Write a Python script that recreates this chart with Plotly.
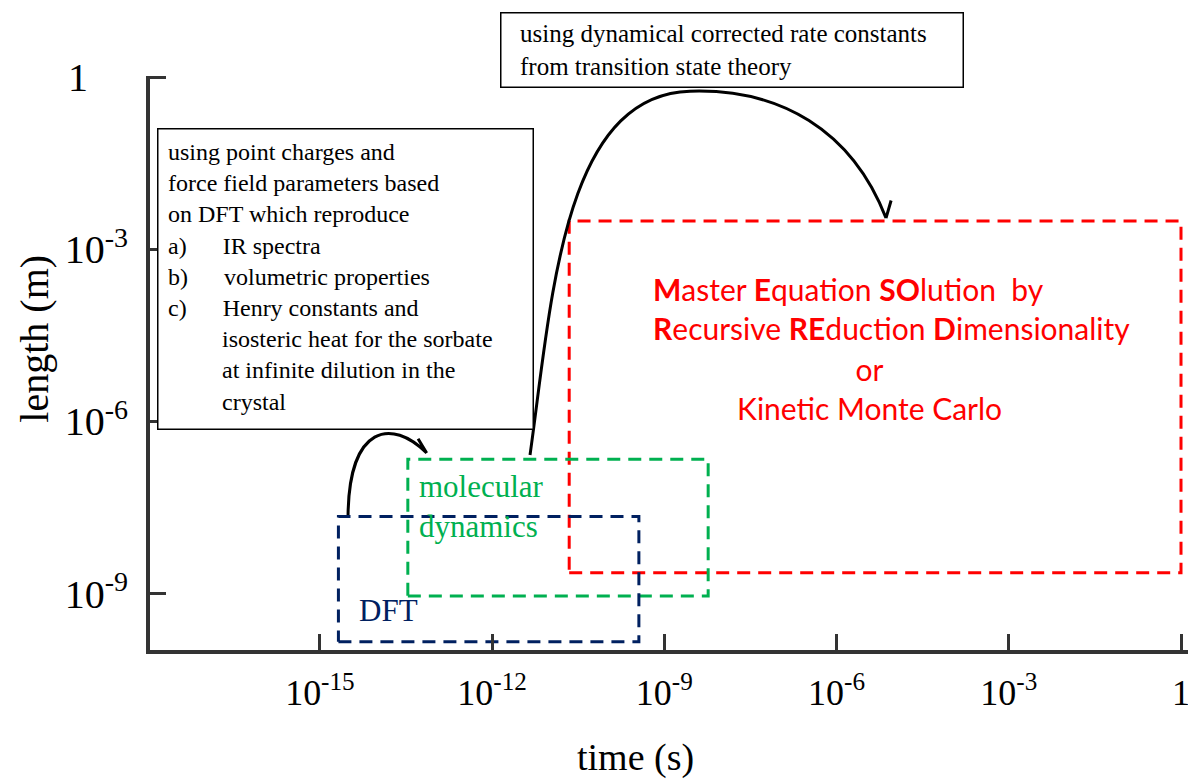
import numpy as np
import plotly.graph_objects as go

# ---- chart data -------------------------------------------------------------
# time / length windows covered by each simulation method (s, m)
dft_time = [2.1e-15, 3.6e-10]
dft_length = [1.45e-10, 2.2e-8]

md_time = [3.4e-14, 5.8e-9]
md_length = [9.1e-10, 2.2e-7]

meso_time = [2.2e-11, 1.0]
meso_length = [2.3e-9, 3.1e-3]

# axis ticks
x_tickvals = [1e-15, 1e-12, 1e-9, 1e-6, 1e-3, 1]
x_ticktext = ["10<sup>-15</sup>", "10<sup>-12</sup>", "10<sup>-9</sup>",
              "10<sup>-6</sup>", "10<sup>-3</sup>", "1"]
y_tickvals = [1e-9, 1e-6, 1e-3, 1]
y_ticktext = ["10<sup>-9</sup>", "10<sup>-6</sup>", "10<sup>-3</sup>",
              "1" + "\u00a0" * 4]

# ---- layout constants -------------------------------------------------------
X_RANGE = [-17.96, 0.122]   # log10 seconds
Y_RANGE = [-9.983, 0.02]    # log10 metres
SERIF = "Liberation Serif, Times New Roman, serif"
SANS = "Lato, Noto Sans, sans-serif"
NAVY = "#002060"
GREEN = "#00B050"
RED = "#FF0000"
AXIS = "#333333"
NB = "\u00a0"


def to_paper(xl, yl):
    """log10 data coordinates -> paper coordinates."""
    return ((xl - X_RANGE[0]) / (X_RANGE[1] - X_RANGE[0]),
            (yl - Y_RANGE[0]) / (Y_RANGE[1] - Y_RANGE[0]))


def path_from_log(cmds):
    """Build an SVG path (paper refs) from (command, [(xl, yl), ...]) pairs."""
    parts = []
    for cmd, pts in cmds:
        coords = " ".join("%.5f,%.5f" % to_paper(*p) for p in pts)
        parts.append(cmd + coords)
    return " ".join(parts)


def box_trace(t, l, color):
    return go.Scatter(
        x=[t[0], t[1], t[1], t[0], t[0]],
        y=[l[0], l[0], l[1], l[1], l[0]],
        mode="lines",
        line=dict(color=color, width=3, dash="13px,8px"),
        hoverinfo="skip",
        showlegend=False,
    )


fig = go.Figure()
fig.add_trace(box_trace(meso_time, meso_length, RED))
fig.add_trace(box_trace(md_time, md_length, GREEN))
fig.add_trace(box_trace(dft_time, dft_length, NAVY))

# ---- connector arrows (log10 coordinates) -----------------------------------
arrow_dft_md = path_from_log([
    ("M", [(-14.51, -7.63)]),
    ("C", [(-14.49, -6.06), (-13.75, -5.94), (-13.14, -6.55)]),
    ("M", [(-13.29, -6.30)]),
    ("L", [(-13.14, -6.55), (-13.40, -6.54)]),
])
arrow_md_meso = path_from_log([
    ("M", [(-11.34, -6.585)]),
    ("C", [(-10.96, -3.885), (-10.78, -0.314), (-8.554, -0.244)]),
    ("C", [(-6.986, -0.192), (-5.732, -0.923), (-5.139, -2.456)]),
    ("M", [(-5.050, -2.150)]),
    ("L", [(-5.139, -2.456), (-5.400, -2.270)]),
])
shapes = [
    dict(type="path", xref="paper", yref="paper", path=p,
         line=dict(color="black", width=3), fillcolor="rgba(0,0,0,0)")
    for p in (arrow_dft_md, arrow_md_meso)
]

# ---- text -------------------------------------------------------------------
left_lines = [
    "using point charges and",
    "force field parameters based",
    "on DFT which reproduce",
    "a)" + NB * 6 + "IR spectra",
    "b)" + NB * 6 + "volumetric properties",
    "c)" + NB * 6 + "Henry constants and",
    NB * 9 + "isosteric heat for the sorbate",
    NB * 9 + "at infinite dilution in the",
    NB * 9 + "crystal",
]
top_lines = [
    NB * 2 + "using dynamical corrected rate constants",
    NB * 2 + "from transition state theory",
]

annotations = [
    # explanatory boxes
    dict(xref="paper", yref="paper", x=0.0067, y=0.9094,
         xanchor="left", yanchor="top", showarrow=False,
         text="<br>".join(left_lines), align="left", valign="top",
         width=355, height=280,
         font=dict(family=SERIF, size=24, color="black"),
         bordercolor="black", borderwidth=1.5, borderpad=9.5, bgcolor="white"),
    dict(xref="paper", yref="paper", x=0.3372, y=1.1115,
         xanchor="left", yanchor="top", showarrow=False,
         text="<br>".join(top_lines), align="left", valign="middle",
         width=449, height=61,
         font=dict(family=SERIF, size=25, color="black"),
         bordercolor="black", borderwidth=1.5, borderpad=6, bgcolor="white"),
    # method labels (log10 coordinates on log axes)
    dict(xref="x", yref="y", x=-14.36, y=-9.29, xanchor="left",
         yanchor="middle", showarrow=False, text="DFT",
         font=dict(family=SERIF, size=31, color=NAVY)),
    dict(xref="x", yref="y", x=-13.31, y=-7.49, xanchor="left",
         yanchor="middle", showarrow=False, align="left",
         text="molecular<br>dynamics",
         font=dict(family=SERIF, size=31, color=GREEN)),
    dict(xref="x", yref="y", x=-9.23, y=-4.04, xanchor="left",
         yanchor="middle", showarrow=False, align="left",
         text="<b>M</b>aster <b>E</b>quation <b>SO</b>lution" + NB * 2 + "by<br>"
              "<b>R</b>ecursive <b>RE</b>duction <b>D</b>imensionality",
         font=dict(family=SANS, size=30, color=RED)),
    dict(xref="x", yref="y", x=-5.42, y=-5.43, xanchor="center",
         yanchor="middle", showarrow=False, align="center",
         text="or<br>Kinetic Monte Carlo",
         font=dict(family=SANS, size=30, color=RED)),
    # axis titles
    dict(xref="paper", yref="paper", x=-0.111, y=0.542, textangle=-90,
         xanchor="center", yanchor="middle", showarrow=False,
         text="length (m)", font=dict(family=SERIF, size=40, color="black")),
    dict(xref="paper", yref="paper", x=0.468, y=-0.187,
         xanchor="center", yanchor="middle", showarrow=False,
         text="time (s)", font=dict(family=SERIF, size=38, color="black")),
]

axis_common = dict(
    type="log", showgrid=False, zeroline=False, showline=True,
    linecolor=AXIS, linewidth=4, ticks="inside", ticklen=16,
    tickwidth=2.5, tickcolor=AXIS, automargin=False,
    ticklabeloverflow="allow",
)

fig.update_layout(
    width=1188, height=781,
    margin=dict(l=150, r=0, t=76, b=131),
    paper_bgcolor="white", plot_bgcolor="white",
    hovermode=False,
    xaxis=dict(range=X_RANGE, tickvals=x_tickvals, ticktext=x_ticktext,
               tickfont=dict(family=SERIF, size=36, color="black"),
               ticklabelstandoff=8, **axis_common),
    yaxis=dict(range=Y_RANGE, tickvals=y_tickvals, ticktext=y_ticktext,
               tickfont=dict(family=SERIF, size=40, color="black"),
               ticklabelstandoff=10, **axis_common),
    shapes=shapes,
    annotations=annotations,
)

fig.write_html("out.html")
